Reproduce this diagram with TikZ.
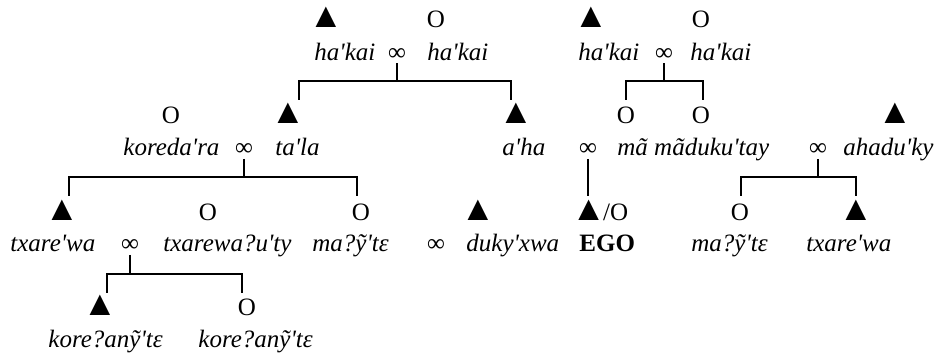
\documentclass[tikz,border=0pt]{standalone}
\usepackage{fontspec}
\setmainfont{Liberation Serif}
\newcommand{\qt}{\textquotesingle}
\newcommand{\tri}{{\fontsize{17.5}{17.5}\selectfont ▲}}
\begin{document}
\begin{tikzpicture}[x=0.5pt,y=-0.5pt,
  sym/.style={anchor=base,inner sep=0pt,font=\fontsize{12.5}{15}\selectfont},
  symw/.style={anchor=base west,inner sep=0pt,font=\fontsize{12.5}{15}\selectfont},
  nm/.style={anchor=base west,inner sep=0pt,font=\fontsize{12.5}{15}\selectfont\itshape},
  ego/.style={anchor=base west,inner sep=0pt,font=\fontsize{12.5}{15}\selectfont\bfseries},
  mar/.style={anchor=base,inner sep=0pt,font=\fontsize{12.5}{15}\selectfont},
  ln/.style={line width=0.9pt}]
\path[use as bounding box] (0,0) rectangle (940,356);
% Row 1
\node[sym] (s11) at (326,28) {\tri};
\node[sym] (s12) at (436,28) {O};
\node[sym] (s13) at (591,28) {\tri};
\node[sym] (s14) at (701,28) {O};
\node[nm] (t11) at (314,60.5) {ha\qt kai};
\node[mar] (m11) at (397,60.5) {∞};
\node[nm] (t12) at (427,60.5) {ha\qt kai};
\node[nm] (t13) at (578,60.5) {ha\qt kai};
\node[mar] (m12) at (664,60.5) {∞};
\node[nm] (t14) at (690,60.5) {ha\qt kai};
% Row 2
\node[sym] (s21) at (171,124) {O};
\node[sym] (s22) at (288,124) {\tri};
\node[sym] (s23) at (516,124) {\tri};
\node[sym] (s24) at (626,124) {O};
\node[sym] (s25) at (701,124) {O};
\node[sym] (s26) at (895,124) {\tri};
\node[nm] (t21) at (123,156) {koreda\qt ra};
\node[mar] (m21) at (244,156) {∞};
\node[nm] (t22) at (275,156) {ta\qt la};
\node[nm] (t23) at (502,156) {a\qt ha};
\node[mar] (m22) at (588,156) {∞};
\node[nm] (t24) at (617,156) {mã mãduku\qt tay};
\node[mar] (m23) at (818,156) {∞};
\node[nm] (t25) at (843,156) {ahadu\qt ky};
% Row 3
\node[sym] (s31) at (62,220.5) {\tri};
\node[sym] (s32) at (208,220.5) {O};
\node[sym] (s33) at (361,220.5) {O};
\node[sym] (s34) at (478,220.5) {\tri};
\node[symw] (s35) at (571,220.5) {\tri\kern-1.5pt/O};
\node[sym] (s36) at (740,220.5) {O};
\node[sym] (s37) at (856,220.5) {\tri};
\node[nm] (t31) at (10,252) {txare\qt wa};
\node[mar] (m31) at (130,252) {∞};
\node[nm] (t32) at (163,252) {txarewa?u\qt ty};
\node[nm] (t33) at (312,252) {ma?ỹ\qt tε};
\node[mar] (m32) at (436,252) {∞};
\node[nm] (t34) at (466,252) {duky\qt xwa};
\node[ego] (t35) at (579,252) {EGO};
\node[nm] (t36) at (691,252) {ma?ỹ\qt tε};
\node[nm] (t37) at (806,252) {txare\qt wa};
% Row 4
\node[sym] (s41) at (100,316) {\tri};
\node[sym] (s42) at (247,316) {O};
\node[nm] (t41) at (48,348) {kore?anỹ\qt tε};
\node[nm] (t42) at (198,348) {kore?anỹ\qt tε};
% Junctions
\coordinate (A) at (397,81);  \coordinate (Al) at (299,81); \coordinate (Ar) at (511,81);
\coordinate (B) at (664,81);  \coordinate (Bl) at (626,81); \coordinate (Br) at (703,81);
\coordinate (C) at (244,177); \coordinate (Cl) at (69,177); \coordinate (Cr) at (357,177);
\coordinate (D) at (588,196);
\coordinate (E) at (818,177); \coordinate (El) at (741,177); \coordinate (Er) at (856,177);
\coordinate (F) at (130,274); \coordinate (Fl) at (107,274); \coordinate (Fr) at (242,274);
% Connectors
\draw[ln] ([yshift=-1.2pt]m11.south) -- (A);
\draw[ln] (Al) ++(0,19) -- (Al) -- (Ar) -- ++(0,19);
\draw[ln] ([yshift=-1.2pt]m12.south) -- (B);
\draw[ln] (Bl) ++(0,19) -- (Bl) -- (Br) -- ++(0,19);
\draw[ln] ([yshift=-1.2pt]m21.south) -- (C);
\draw[ln] (Cl) ++(0,19) -- (Cl) -- (Cr) -- ++(0,19);
\draw[ln] ([yshift=-1.2pt]m22.south) -- (D);
\draw[ln] ([yshift=-1.2pt]m23.south) -- (E);
\draw[ln] (El) ++(0,19) -- (El) -- (Er) -- ++(0,19);
\draw[ln] ([yshift=-1.2pt]m31.south) -- (F);
\draw[ln] (Fl) ++(0,19) -- (Fl) -- (Fr) -- ++(0,19);
\end{tikzpicture}
\end{document}
